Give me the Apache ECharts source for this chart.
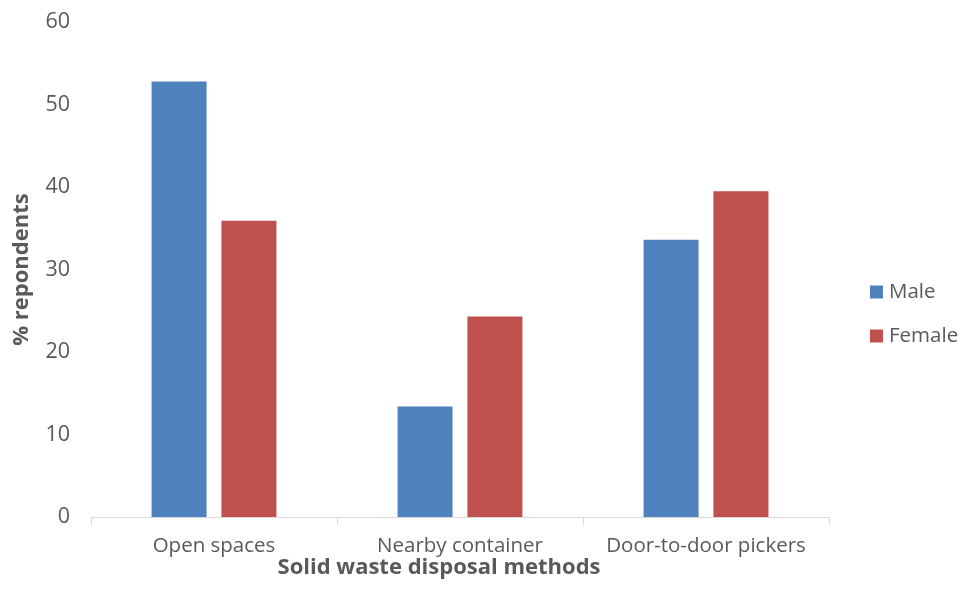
<!DOCTYPE html>
<html>
<head>
<meta charset="utf-8">
<script src="https://cdn.jsdelivr.net/npm/echarts@6/dist/echarts.min.js"></script>
<style>
  html, body { margin: 0; padding: 0; background: #fff; }
  #chart { width: 959px; height: 590px; }
</style>
</head>
<body>
<div id="chart"></div>
<script>
// Solid waste disposal methods by gender (% of respondents)
const categories = ['Open spaces', 'Nearby container', 'Door-to-door pickers'];
const maleValues = [52.8, 13.4, 33.6];
const femaleValues = [35.9, 24.3, 39.5];
const yTicks = { min: 0, max: 60, interval: 10 };

const font = '"Open Sans", "Noto Sans", sans-serif';
const textGrey = '#595959';

const chart = echarts.init(document.getElementById('chart'));
chart.setOption({
  animation: false,
  textStyle: { fontFamily: font },
  grid: { left: 91, right: 130, top: 22, bottom: 73 },
  legend: {
    orient: 'vertical',
    left: 870,
    top: 281,
    padding: 0,
    itemWidth: 13,
    itemHeight: 13,
    itemGap: 22,
    icon: 'rect',
    textStyle: { fontFamily: font, fontSize: 20.5, lineHeight: 22, color: textGrey, padding: [0, 0, 0, 1] },
    data: ['Male', 'Female']
  },
  xAxis: {
    type: 'category',
    data: categories,
    name: 'Solid waste disposal methods',
    nameLocation: 'middle',
    nameGap: 40,
    nameMoveOverlap: false,
    nameTextStyle: { fontFamily: font, fontSize: 22, fontWeight: 'bold', color: textGrey, padding: [0, 42, 0, 0] },
    axisLine: { lineStyle: { color: '#D9D9D9', width: 1 } },
    axisTick: { show: true, interval: 0, alignWithLabel: false, length: 8, lineStyle: { color: '#D9D9D9' } },
    axisLabel: { interval: 0, hideOverlap: false, fontFamily: font, fontSize: 20.5, color: textGrey, margin: 19 }
  },
  yAxis: {
    type: 'value',
    min: yTicks.min,
    max: yTicks.max,
    interval: yTicks.interval,
    name: '% repondents',
    nameLocation: 'middle',
    nameGap: 58,
    nameMoveOverlap: false,
    nameTextStyle: { fontFamily: font, fontSize: 22, fontWeight: 'bold', color: textGrey },
    axisLine: { show: false },
    axisTick: { show: false },
    splitLine: { show: false },
    axisLabel: { fontFamily: font, fontSize: 21.5, color: textGrey, margin: 21 }
  },
  series: [
    {
      name: 'Male',
      type: 'bar',
      data: maleValues,
      barWidth: 55,
      barGap: '27%',
      itemStyle: { color: '#4F81BD' }
    },
    {
      name: 'Female',
      type: 'bar',
      data: femaleValues,
      barWidth: 55,
      barGap: '27%',
      itemStyle: { color: '#C0504D' }
    }
  ]
});
</script>
</body>
</html>
